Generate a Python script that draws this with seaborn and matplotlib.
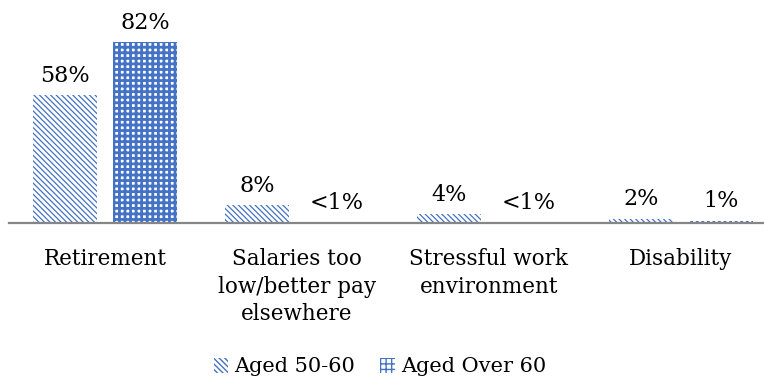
import matplotlib
matplotlib.use("Agg")
import matplotlib.pyplot as plt
import seaborn as sns
import pandas as pd
from matplotlib.patches import Patch

categories = ["Retirement", "Salaries too\nlow/better pay\nelsewhere",
              "Stressful work\nenvironment", "Disability"]
series_names = ["Aged 50-60", "Aged Over 60"]
aged_50_60 = [58, 8, 4, 2]
aged_over_60 = [82, 0.5, 0.5, 1]
labels_50_60 = ["58%", "8%", "4%", "2%"]
labels_over_60 = ["82%", "<1%", "<1%", "1%"]

sns.set_theme(style="white")
plt.rcParams["font.family"] = ["DejaVu Serif"]
plt.rcParams["hatch.linewidth"] = 1.0

BLUE = "#4472C4"

df = pd.DataFrame({
    "cat": categories * 2,
    "val": aged_50_60 + aged_over_60,
    "series": [series_names[0]] * 4 + [series_names[1]] * 4,
})

fig = plt.figure(figsize=(7.64, 3.90), dpi=100)
ax = fig.add_axes([9 / 764, 167 / 390, 768 / 764, 200 / 390])

sns.barplot(data=df, x="cat", y="val", hue="series", order=categories,
            hue_order=series_names, palette=["white", "white"],
            width=0.833, gap=0.2, ax=ax, legend=False, errorbar=None)

hatches = ["\\" * 6, "+++"]
hlw = [0.9, 2.0]
all_labels = [labels_50_60, labels_over_60]
for ci, cont in enumerate(ax.containers):
    for p in cont.patches:
        p.set_facecolor("white")
        p.set_edgecolor(BLUE)
        p.set_linewidth(0)
        p.set_hatch(hatches[ci])
        if hasattr(p, "set_hatch_linewidth"):
            p.set_hatch_linewidth(hlw[ci])
    ax.bar_label(cont, labels=all_labels[ci], padding=6, fontsize=16,
                 color="black")

ax.set_xlim(-0.5, 3.5)
ax.set_ylim(0, 200 / 2.207)
ax.set_yticks([])
ax.set_xlabel("")
ax.set_ylabel("")
for s in ["top", "right", "left"]:
    ax.spines[s].set_visible(False)
ax.spines["bottom"].set_color("#868686")
ax.spines["bottom"].set_linewidth(1.6)
ax.tick_params(axis="x", length=0, pad=18, labelsize=15.5, labelcolor="black")
for t in ax.get_xticklabels():
    t.set_linespacing(1.33)
    t.set_verticalalignment("top")

handles = [Patch(facecolor="white", edgecolor=BLUE, linewidth=0, hatch=hatches[0]),
           Patch(facecolor="white", edgecolor=BLUE, linewidth=0, hatch=hatches[1])]
fig.legend(handles, series_names, loc="center", bbox_to_anchor=(380 / 764, 1 - 367 / 390),
           ncol=2, frameon=False, fontsize=15, handlelength=0.7, handleheight=0.7,
           handletextpad=0.3, columnspacing=1.2, labelcolor="black")

fig.savefig("out.png", dpi=100)
